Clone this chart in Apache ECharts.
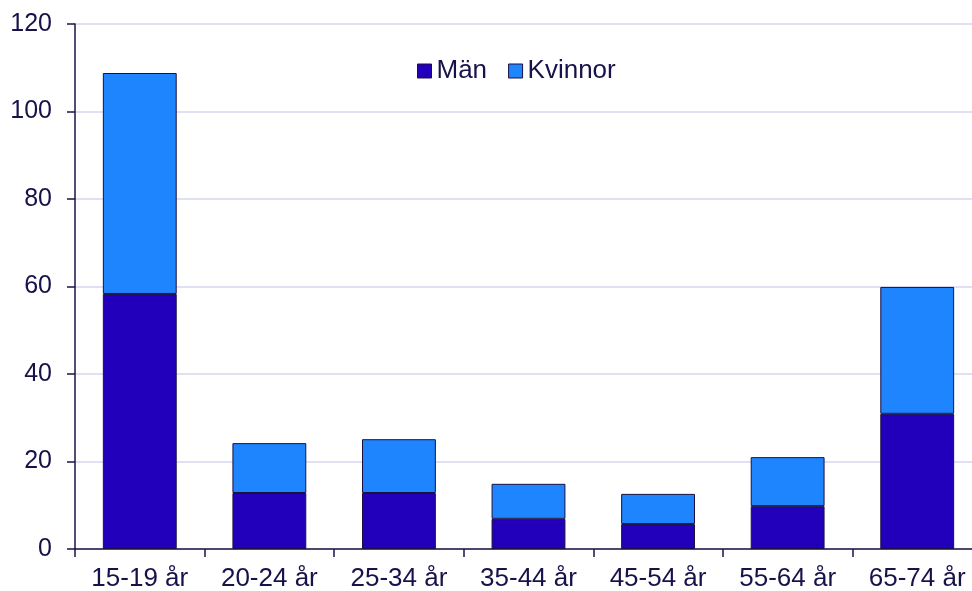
<!DOCTYPE html>
<html>
<head>
<meta charset="utf-8">
<script src="https://cdn.jsdelivr.net/npm/echarts@6/dist/echarts.min.js"></script>
<style>
  html, body { margin: 0; padding: 0; background: #fff; }
  #chart { width: 972px; height: 591px; }
</style>
</head>
<body>
<div id="chart"></div>
<script>
  const categories = ['15-19 år', '20-24 år', '25-34 år', '35-44 år', '45-54 år', '55-64 år', '65-74 år'];
  const man = [58.3, 12.8, 12.8, 6.9, 5.7, 9.8, 30.9];
  const kvinnor = [50.5, 11.4, 12.3, 8.0, 6.9, 11.2, 29.0];
  const yTicks = [0, 20, 40, 60, 80, 100, 120];

  const axisColor = '#1a1446';
  const textColor = '#16124a';
  const font = '"Liberation Sans", Arial, sans-serif';

  const chart = echarts.init(document.getElementById('chart'));
  chart.setOption({
    animation: false,
    // plot area runs a bit past the right edge, as in the source image
    grid: { left: 75, width: 907, top: 24, height: 525, outerBoundsMode: 'none' },
    legend: {
      top: 53,
      left: 412,
      icon: 'rect',
      itemWidth: 14,
      itemHeight: 14,
      itemGap: 21,
      textStyle: { color: textColor, fontSize: 26, fontFamily: font },
      data: [
        { name: 'Män', itemStyle: { borderColor: '#1a1040', borderWidth: 1 } },
        { name: 'Kvinnor', itemStyle: { borderColor: '#1a1040', borderWidth: 1 } }
      ]
    },
    xAxis: {
      type: 'category',
      data: categories,
      axisLine: { lineStyle: { color: axisColor, width: 1.5 } },
      axisTick: { show: true, length: 8, lineStyle: { color: axisColor, width: 1.5 } },
      axisLabel: { color: textColor, fontSize: 26, fontFamily: font, margin: 17 }
    },
    yAxis: {
      type: 'value',
      min: yTicks[0],
      max: yTicks[yTicks.length - 1],
      interval: 20,
      axisLine: { show: true, lineStyle: { color: axisColor, width: 1.5 } },
      axisTick: { show: true, length: 8, lineStyle: { color: axisColor, width: 1.5 } },
      axisLabel: { color: textColor, fontSize: 25, fontFamily: font, margin: 23 },
      splitLine: { lineStyle: { color: '#d6d6f0', width: 1.5 } }
    },
    series: [
      {
        name: 'Män',
        type: 'bar',
        stack: 'total',
        barCategoryGap: '43%',
        data: man,
        itemStyle: { color: '#2200bb', borderColor: '#1a1040', borderWidth: 1 }
      },
      {
        name: 'Kvinnor',
        type: 'bar',
        stack: 'total',
        barCategoryGap: '43%',
        data: kvinnor,
        itemStyle: { color: '#1e85ff', borderColor: '#1a1040', borderWidth: 1 }
      }
    ]
  });
</script>
</body>
</html>
